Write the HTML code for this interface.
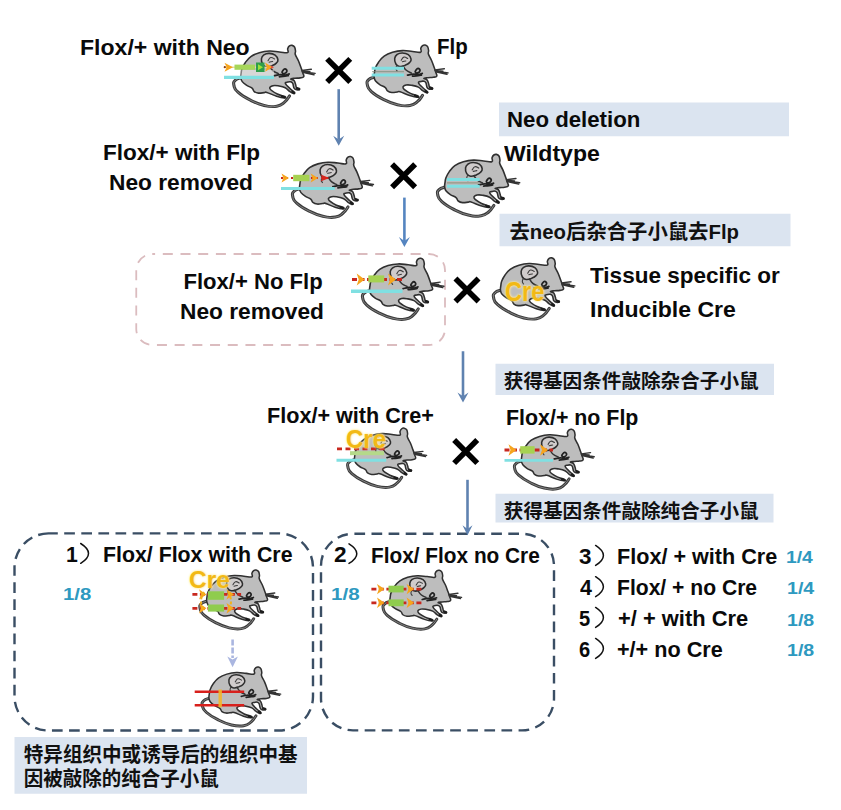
<!DOCTYPE html>
<html lang="zh"><head><meta charset="utf-8"><title>Conditional knockout mouse breeding scheme</title>
<style>
html,body{margin:0;padding:0;background:#fff}
#c{position:relative;width:841px;height:810px;overflow:hidden;background:#fff;font-family:"Liberation Sans",sans-serif}
#c svg{position:absolute;left:0;top:0}
.t{position:absolute;white-space:nowrap;font-weight:bold;line-height:normal;transform-origin:0 0;font-family:"Liberation Sans",sans-serif}
</style></head><body><div id="c">
<svg width="841" height="810" viewBox="0 0 841 810">
<defs><symbol id="m" overflow="visible">
<path d="M14.8 46.6C13.25 47.28 10.50 47.32 8.6 49.3C6.70 51.28 6.52 51.47 7.2 54.5C7.88 57.53 7.25 57.72 11.3 61.4C15.35 65.08 16.80 65.87 23.4 69.2C30.00 72.53 30.92 73.12 37.7 74.7C44.48 76.28 45.35 76.33 50.5 75.5C55.65 74.67 55.10 73.98 58.3 71.4C61.50 68.82 62.05 66.75 63.3 65.2" fill="none" stroke="#3b3b3b" stroke-width="3.1" stroke-linecap="round"/>
<path d="M14.8 46.6C13.25 47.28 10.50 47.32 8.6 49.3C6.70 51.28 6.52 51.47 7.2 54.5C7.88 57.53 7.25 57.72 11.3 61.4C15.35 65.08 16.80 65.87 23.4 69.2C30.00 72.53 30.92 73.12 37.7 74.7C44.48 76.28 45.35 76.33 50.5 75.5C55.65 74.67 55.10 73.98 58.3 71.4C61.50 68.82 62.05 66.75 63.3 65.2" fill="none" stroke="#9a9a9a" stroke-width="0.8" stroke-linecap="round"/>
<path d="M14.1 46.8C13.87 44.97 14.23 43.95 14.5 42C14.77 40.05 14.54 39.68 15.4 37.5C16.26 35.32 16.73 34.14 18.6 31.6C20.47 29.06 21.32 27.52 24.3 25.4C27.28 23.28 28.89 22.68 32.8 21.5C36.71 20.32 38.64 19.97 42.9 19.8C47.16 19.63 49.24 20.36 53.1 20.7C56.96 21.04 59.54 22.07 61.3 21.4C63.06 20.73 61.08 18.91 61.5 17.5C61.92 16.09 62.38 15.41 63.3 14.7C64.22 13.99 64.83 13.89 65.9 14.1C66.97 14.31 67.66 14.50 68.4 15.7C69.14 16.90 69.23 18.20 69.4 19.8C69.57 21.40 68.59 21.24 69.2 23.3C69.81 25.36 71.08 26.79 72.3 29.6C73.52 32.41 74.05 34.10 75 36.7C75.95 39.30 76.23 40.13 76.8 42C77.37 43.87 78.27 44.57 77.7 45.6C77.13 46.63 75.97 46.54 74.1 46.9C72.23 47.26 70.80 47.07 68.8 47.3C66.80 47.53 64.79 47.52 64.6 48C64.41 48.48 66.87 48.42 67.9 49.6C68.93 50.78 68.97 52.11 69.5 53.6C70.03 55.09 69.62 55.86 70.4 56.7C71.18 57.54 72.70 57.14 73.2 57.6C73.70 58.06 73.64 58.71 72.8 58.9C71.96 59.09 70.27 58.96 69.2 58.5C68.13 58.04 68.25 57.98 67.7 56.7C67.15 55.42 67.25 53.62 66.6 52.4C65.95 51.18 65.63 51.17 64.6 50.9C63.57 50.63 62.83 50.74 61.7 51.1C60.57 51.46 58.70 51.15 59.2 52.6C59.70 54.05 62.19 56.13 64.1 58C66.01 59.87 67.65 60.53 68.3 61.5C68.95 62.47 68.23 62.81 67.2 62.6C66.17 62.39 65.12 61.70 63.4 60.5C61.68 59.30 61.23 58.03 59 56.9C56.77 55.77 55.40 55.54 52.8 55.1C50.20 54.66 48.53 54.21 46.6 54.8C44.67 55.39 42.68 56.14 43.6 57.9C44.52 59.66 47.85 61.56 51 63.2C54.15 64.84 57.15 64.86 58.6 65.7C60.05 66.54 59.64 67.24 57.9 67.2C56.16 67.16 53.95 66.68 50.3 65.5C46.65 64.32 43.15 62.38 40.5 61.6C37.85 60.82 39.49 61.65 37.7 61.8C35.91 61.95 34.10 62.53 32 62.3C29.90 62.07 29.07 61.75 27.7 60.7C26.33 59.65 27.16 58.64 25.5 57.3C23.84 55.96 21.88 55.69 19.8 54.3C17.72 52.91 16.80 52.28 15.6 50.7C14.40 49.12 14.33 48.63 14.1 46.8Z" fill="#bdbdbd" stroke="#303030" stroke-width="1.6" stroke-linejoin="round"/>
<path d="M35 27.6C35.33 25.17 35.55 25.05 37.5 23.7C39.45 22.35 39.97 22.15 42.8 22.2C45.63 22.25 46.60 22.35 48.8 23.9C51.00 25.45 51.30 26.37 51.6 28.4C51.90 30.43 51.45 30.45 50 32C48.55 33.55 48.30 33.62 45.8 34.6C43.30 35.58 42.40 36.20 40 35.9C37.60 35.60 37.45 35.48 36.2 33.4C34.95 31.32 34.67 30.03 35 27.6Z" fill="#d0cccc" stroke="#2e2e2e" stroke-width="1.6"/>
<path d="M41.6 29.6C42.30 28.80 42.75 26.85 44.4 26.4C46.05 25.95 47.25 27.45 48.2 27.8M42.7 31.1C43.60 30.90 45.40 30.50 46.3 30.3M37.2 34.6C36.95 35.45 36.15 36.52 36.2 38C36.25 39.48 37.10 39.87 37.4 40.5" fill="none" stroke="#3c3c3c" stroke-width="1.1" stroke-linecap="round"/>
<path d="M43.5 35.4C44.33 36.50 44.67 38.00 46.8 39.8C48.93 41.60 50.70 41.90 52 42.6" fill="none" stroke="#333" stroke-width="1.5" stroke-linecap="round"/>
<path d="M48 44.7C49.55 44.42 51.52 43.73 54.2 43.6C56.88 43.47 56.50 44.38 58.7 44.2C60.90 44.02 61.92 43.23 63 42.9M56.5 39.8C57.20 38.85 57.65 37.72 58.7 37.8C59.75 37.88 60.83 38.92 60.7 40.1C60.57 41.28 59.40 42.12 58.2 42.5C57.00 42.88 56.33 42.28 55.9 41.6C55.47 40.92 55.80 40.75 56.5 39.8ZM53.1 45.8C54.50 45.65 56.45 45.50 58.7 45.2C60.95 44.90 61.25 44.75 62.1 44.6" fill="none" stroke="#222" stroke-width="1.8" stroke-linecap="round"/>
<path d="M75.9 39.4L85.4 38.2M76.2 40.4L89.2 42.4M76.5 41.3L88.1 43.8M76 40L84 40.6" fill="none" stroke="#333" stroke-width="1.4" stroke-linecap="round"/>
<path d="M70.9 57.3L73 58.4M66.2 60.9L68 62.2M55.6 65.4L58.3 66.6" fill="none" stroke="#1c1c1c" stroke-width="2.2" stroke-linecap="round"/>
</symbol></defs>
<rect x="499" y="102.5" width="290" height="33.75" fill="#dbe4f0"/>
<rect x="499.5" y="213.75" width="291" height="32.5" fill="#dbe4f0"/>
<rect x="495.5" y="363.75" width="278.5" height="31.25" fill="#dbe4f0"/>
<rect x="495.5" y="493.75" width="278" height="28.75" fill="#dbe4f0"/>
<rect x="14.5" y="737" width="292.5" height="56.75" fill="#dbe4f0"/>
<rect x="136.25" y="254" width="308.75" height="91" rx="16" fill="none" stroke="#dbbcbf" stroke-width="1.8" stroke-dasharray="10 7.7" stroke-dashoffset="7.15"/>
<rect x="14.5" y="533.4" width="298.5" height="197.1" rx="34" fill="none" stroke="#3a4e64" stroke-width="2.4" stroke-dasharray="10.7 6.4" stroke-dashoffset="1.4"/>
<rect x="321" y="533.8" width="233" height="196.6" rx="32" fill="none" stroke="#3a4e64" stroke-width="2.4" stroke-dasharray="10.7 6.4" stroke-dashoffset="15.7"/>
<path d="M338.7 89.2V139.8" stroke="#5f82b0" stroke-width="2.6" fill="none"/>
<path d="M338.7 145.8L333.2 135.8L338.7 139.6L344.2 135.8Z" fill="#5f82b0"/>
<path d="M404.4 197.6V241.1" stroke="#5585c0" stroke-width="2.6" fill="none"/>
<path d="M404.4 247.1L398.9 237.1L404.4 240.9L409.9 237.1Z" fill="#5585c0"/>
<path d="M463 351.25V396.5" stroke="#5f82b0" stroke-width="2.6" fill="none"/>
<path d="M463 402.5L457.5 392.5L463 396.3L468.5 392.5Z" fill="#5f82b0"/>
<path d="M467.5 479.8V529.3" stroke="#5f82b0" stroke-width="2.6" fill="none"/>
<path d="M467.5 535.3L462.5 525.3L467.5 529.1L472.5 525.3Z" fill="#5f82b0"/>
<path d="M232.6 639.5V658" stroke="#aab6e0" stroke-width="2.6" stroke-dasharray="6 2" fill="none"/>
<path d="M232.6 667.3L227.3 656.5L232.6 659.5L237.9 656.5Z" fill="#aab6e0"/>
<path d="M327.16 58.86L350.24 81.94M350.24 58.86L327.16 81.94" stroke="#000" stroke-width="5.6" fill="none"/>
<path d="M392.06 164.16L415.14 187.24M415.14 164.16L392.06 187.24" stroke="#000" stroke-width="5.6" fill="none"/>
<path d="M455.46 278.46L478.54 301.54M478.54 278.46L455.46 301.54" stroke="#000" stroke-width="5.6" fill="none"/>
<path d="M454.16 440.06L477.24 463.14M477.24 440.06L454.16 463.14" stroke="#000" stroke-width="5.6" fill="none"/>
<use href="#m" transform="translate(226.81 31.43) scale(0.99)"/>
<use href="#m" transform="translate(360.23 31.1) scale(0.985)"/>
<use href="#m" transform="translate(285.63 142.7) scale(0.985)"/>
<use href="#m" transform="translate(430.55 140.3) scale(1)"/>
<use href="#m" transform="translate(355.61 244.33) scale(0.99)"/>
<use href="#m" transform="translate(486.51 243.93) scale(0.99)"/>
<use href="#m" transform="translate(340.98 414.63) scale(0.96)"/>
<use href="#m" transform="translate(507.72 415.6) scale(0.97)"/>
<use href="#m" transform="translate(193.2 556.5) scale(0.955)"/>
<use href="#m" transform="translate(195.5 653.6) scale(0.955)"/>
<use href="#m" transform="translate(376.4 556.8) scale(0.955)"/>
<rect x="226" y="70" width="48" height="6" fill="#fff" opacity="0.4"/>
<path d="M224 77.4H274" stroke="#80e0e2" stroke-width="3.2"/>
<path d="M224 67.2H271" stroke="#e8d9a0" stroke-width="1.5"/>
<path d="M224.5 62.7L233 67.2L224.5 71.7L226.625 67.2Z" fill="#f6a51e"/>
<circle cx="224.8" cy="67.2" r="1.1" fill="#8a3b10"/>
<rect x="234.5" y="64.6" width="20.5" height="5.2" fill="#a6d65a"/>
<rect x="256" y="62.5" width="8.5" height="9.5" fill="#2e9d4a"/>
<path d="M258 64.2L263 67.2L258 70.2Z" fill="#9be33a"/>
<path d="M265 62.6L272.5 67.2L265 71.8L266.875 67.2Z" fill="#f6a51e"/>
<path d="M271 65.5l3 1.7l-3 1.7z" fill="#e0503a"/>
<path d="M371.7 68.3H404" stroke="#80e0e2" stroke-width="3"/>
<path d="M371.7 75H404" stroke="#80e0e2" stroke-width="3"/>
<path d="M372 71.7H404" stroke="#7a8a78" stroke-width="0.8"/>
<path d="M447 179.5H479.7" stroke="#80e0e2" stroke-width="3"/>
<path d="M447 186.3H479.7" stroke="#80e0e2" stroke-width="3"/>
<path d="M447 182.9H479" stroke="#8a8a70" stroke-width="0.9"/>
<path d="M281 188.5H334.7" stroke="#80e0e2" stroke-width="3.2"/>
<path d="M281 178H331" stroke="#c8281e" stroke-width="2" stroke-dasharray="2 3"/>
<path d="M281.5 173.6L289 178L281.5 182.4L283.375 178Z" fill="#f6a51e"/>
<rect x="293.2" y="174.8" width="16.2" height="6.4" fill="#a6d252"/>
<path d="M310.6 173.6L318.1 178L310.6 182.4L312.475 178Z" fill="#f6a51e"/>
<path d="M320.5 174.6L329.5 178L320.5 181.4L322.75 178Z" fill="#d8261c"/>
<path d="M351 291.25H402.5" stroke="#80e0e2" stroke-width="3.4"/>
<path d="M352 279.6H402.5" stroke="#c8281e" stroke-width="3" stroke-dasharray="5 2.5"/>
<path d="M356.7 273.6L364.7 279.6L356.7 285.6L358.7 279.6Z" fill="#f6a51e"/>
<rect x="368.3" y="275.4" width="15.9" height="7" fill="#a6d252"/>
<path d="M388 273.6L396 279.6L388 285.6L390 279.6Z" fill="#f6a51e"/>
<path d="M336.5 460.2H386.2" stroke="#80e0e2" stroke-width="3"/>
<path d="M337 448.9H388" stroke="#c8281e" stroke-width="2.6" stroke-dasharray="5 3.5"/>
<rect x="350" y="451.2" width="34" height="4" fill="#b5d98a"/>
<path d="M504.5 460.4H553" stroke="#80e0e2" stroke-width="2.8"/>
<path d="M504.5 450H553" stroke="#c8281e" stroke-width="3" stroke-dasharray="5 2.5"/>
<path d="M508.5 444.2L516.5 450L508.5 455.8L510.5 450Z" fill="#f6a51e"/>
<rect x="520.2" y="446.2" width="14.4" height="7.4" fill="#a6d252"/>
<path d="M540 444.2L548 450L540 455.8L542 450Z" fill="#f6a51e"/>
<path d="M192.4 594.4H241.1" stroke="#c8281e" stroke-width="2.8" stroke-dasharray="5 2.5"/>
<path d="M192.4 608.3H241.1" stroke="#c8281e" stroke-width="2.8" stroke-dasharray="5 2.5"/>
<rect x="207.9" y="591.3" width="16.2" height="8.5" fill="#8fcc4e"/>
<rect x="207.9" y="604.5" width="16.2" height="7.1" fill="#8fcc4e"/>
<path d="M199 589.2L206.5 594.4L199 599.6L200.875 594.4Z" fill="#f6a51e"/>
<path d="M226.5 589.2L234 594.4L226.5 599.6L228.375 594.4Z" fill="#f6a51e"/>
<path d="M199 603.1L206.5 608.3L199 613.5L200.875 608.3Z" fill="#f6a51e"/>
<path d="M226.5 603.1L234 608.3L226.5 613.5L228.375 608.3Z" fill="#f6a51e"/>
<path d="M204 592Q198 601.5 204 611" stroke="#f2b21c" stroke-width="2" fill="none" stroke-dasharray="3 2"/>
<path d="M228 592Q234 601.5 228 611" stroke="#f2b21c" stroke-width="2" fill="none" stroke-dasharray="3 2"/>
<path d="M194.7 691.8H244.2M194.7 705.3H244.2" stroke="#d8201c" stroke-width="2.5"/>
<rect x="218.5" y="689.5" width="3.4" height="17.8" fill="#f2b62a" opacity="0.9"/>
<path d="M371.4 589.1H422.7" stroke="#c8281e" stroke-width="2.8" stroke-dasharray="5 2.5"/>
<path d="M371.4 602.8H422.7" stroke="#c8281e" stroke-width="2.8" stroke-dasharray="5 2.5"/>
<rect x="388.5" y="585.7" width="15.2" height="6.7" fill="#8fcc4e"/>
<rect x="388.5" y="599.4" width="15.2" height="6.8" fill="#8fcc4e"/>
<path d="M377 583.9L384.5 589.1L377 594.3L378.875 589.1Z" fill="#f6a51e"/>
<path d="M406.6 583.9L414.1 589.1L406.6 594.3L408.475 589.1Z" fill="#f6a51e"/>
<path d="M377 597.6L384.5 602.8L377 608L378.875 602.8Z" fill="#f6a51e"/>
<path d="M406.6 597.6L414.1 602.8L406.6 608L408.475 602.8Z" fill="#f6a51e"/>
<text x="509.5" y="239.4" font-size="20.3" font-weight="bold" fill="#111" font-family="&quot;Liberation Sans&quot;, &quot;Noto Sans CJK SC&quot;, sans-serif" textLength="229.5" lengthAdjust="spacingAndGlyphs">去neo后杂合子小鼠去Flp</text>
<text x="503.8" y="387.7" font-size="19.7" font-weight="bold" fill="#111" font-family="&quot;Liberation Sans&quot;, &quot;Noto Sans CJK SC&quot;, sans-serif" textLength="254.8" lengthAdjust="spacingAndGlyphs">获得基因条件敲除杂合子小鼠</text>
<text x="503.8" y="517.7" font-size="19.7" font-weight="bold" fill="#111" font-family="&quot;Liberation Sans&quot;, &quot;Noto Sans CJK SC&quot;, sans-serif" textLength="254.8" lengthAdjust="spacingAndGlyphs">获得基因条件敲除纯合子小鼠</text>
<text x="23.8" y="761.9" font-size="20" font-weight="bold" fill="#111" font-family="&quot;Liberation Sans&quot;, &quot;Noto Sans CJK SC&quot;, sans-serif" textLength="273.8" lengthAdjust="spacingAndGlyphs">特异组织中或诱导后的组织中基</text>
<text x="23.8" y="785.6" font-size="20" font-weight="bold" fill="#111" font-family="&quot;Liberation Sans&quot;, &quot;Noto Sans CJK SC&quot;, sans-serif" textLength="195" lengthAdjust="spacingAndGlyphs">因被敲除的纯合子小鼠</text>
<path d="M80.7 543.5Q96.3 553.4 80.7 563.3" fill="none" stroke="#111" stroke-width="1.5" stroke-linecap="round"/>
<path d="M349 543.9Q364.6 553.65 349 563.4" fill="none" stroke="#111" stroke-width="1.5" stroke-linecap="round"/>
<path d="M595.6 545.45Q611.2 555.45 595.6 565.45" fill="none" stroke="#111" stroke-width="1.5" stroke-linecap="round"/>
<path d="M595.6 576.7Q611.2 586.7 595.6 596.7" fill="none" stroke="#111" stroke-width="1.5" stroke-linecap="round"/>
<path d="M595.6 607.45Q611.2 617.45 595.6 627.45" fill="none" stroke="#111" stroke-width="1.5" stroke-linecap="round"/>
<path d="M595.6 638.45Q611.2 648.45 595.6 658.45" fill="none" stroke="#111" stroke-width="1.5" stroke-linecap="round"/>
</svg>
<span class="t" id="t0" style="left:80.46px;top:35.00px;font-size:22.50px;color:#0a0a0a;transform:scaleX(1.0243);">Flox/+ with Neo</span>
<span class="t" id="t1" style="left:437.39px;top:34.00px;font-size:22.24px;color:#0a0a0a;transform:scaleX(0.9215);">Flp</span>
<span class="t" id="t2" style="left:103.24px;top:140.00px;font-size:22.38px;color:#0a0a0a;transform:scaleX(1.0065);">Flox/+ with Flp</span>
<span class="t" id="t3" style="left:109.21px;top:170.00px;font-size:22.09px;color:#0a0a0a;transform:scaleX(1.0292);">Neo removed</span>
<span class="t" id="t4" style="left:506.94px;top:107.00px;font-size:21.80px;color:#0a0a0a;transform:scaleX(1.0195);">Neo deletion</span>
<span class="t" id="t5" style="left:504.24px;top:141.00px;font-size:22.09px;color:#0a0a0a;transform:scaleX(1.0440);">Wildtype</span>
<span class="t" id="t6" style="left:590.00px;top:263.00px;font-size:22.50px;color:#0a0a0a;transform:scaleX(1.0011);">Tissue specific or</span>
<span class="t" id="t7" style="left:590.00px;top:297.00px;font-size:22.50px;color:#0a0a0a;transform:scaleX(1.0231);">Inducible Cre</span>
<span class="t" id="t8" style="left:183.41px;top:269.00px;font-size:22.09px;color:#0a0a0a;transform:scaleX(1.0000);">Flox/+ No Flp</span>
<span class="t" id="t9" style="left:180.45px;top:299.00px;font-size:22.09px;color:#0a0a0a;transform:scaleX(1.0292);">Neo removed</span>
<span class="t" id="t10" style="left:267.40px;top:403.00px;font-size:22.09px;color:#0a0a0a;transform:scaleX(0.9787);">Flox/+ with Cre+</span>
<span class="t" id="t11" style="left:506.35px;top:405.00px;font-size:21.80px;color:#0a0a0a;transform:scaleX(0.9807);">Flox/+ no Flp</span>
<span class="t" id="t12" style="left:65.54px;top:542.00px;font-size:21.80px;color:#0a0a0a;transform:scaleX(0.9722);">1</span>
<span class="t" id="t13" style="left:102.78px;top:542.00px;font-size:21.80px;color:#0a0a0a;transform:scaleX(0.9779);">Flox/ Flox with Cre</span>
<span class="t" id="t14" style="left:333.50px;top:542.00px;font-size:21.80px;color:#0a0a0a;transform:scaleX(1.0370);">2</span>
<span class="t" id="t15" style="left:371.26px;top:543.00px;font-size:21.80px;color:#0a0a0a;transform:scaleX(0.9545);">Flox/ Flox no Cre</span>
<span class="t" id="t16" style="left:578.99px;top:544.00px;font-size:21.80px;color:#0a0a0a;transform:scaleX(1.0296);">3</span>
<span class="t" id="t17" style="left:616.50px;top:544.00px;font-size:21.80px;color:#0a0a0a;transform:scaleX(0.9907);">Flox/ + with Cre</span>
<span class="t" id="t18" style="left:580.00px;top:575.00px;font-size:21.80px;color:#0a0a0a;transform:scaleX(0.9833);">4</span>
<span class="t" id="t19" style="left:616.50px;top:575.00px;font-size:21.80px;color:#0a0a0a;transform:scaleX(0.9679);">Flox/ + no Cre</span>
<span class="t" id="t20" style="left:579.09px;top:606.00px;font-size:21.80px;color:#0a0a0a;transform:scaleX(0.9227);">5</span>
<span class="t" id="t21" style="left:618.20px;top:606.00px;font-size:21.80px;color:#0a0a0a;transform:scaleX(1.0041);">+/ + with Cre</span>
<span class="t" id="t22" style="left:579.09px;top:637.00px;font-size:21.80px;color:#0a0a0a;transform:scaleX(0.9228);">6</span>
<span class="t" id="t23" style="left:617.26px;top:637.00px;font-size:21.80px;color:#0a0a0a;transform:scaleX(0.9912);">+/+  no Cre</span>
<span class="t" id="t24" style="left:62.71px;top:585.00px;font-size:16.90px;color:#2e99c0;transform:scaleX(1.2028);">1/8</span>
<span class="t" id="t25" style="left:331.32px;top:585.00px;font-size:16.90px;color:#2e99c0;transform:scaleX(1.2169);">1/8</span>
<span class="t" id="t26" style="left:786.30px;top:548.00px;font-size:16.90px;color:#2e99c0;transform:scaleX(1.1440);">1/4</span>
<span class="t" id="t27" style="left:786.62px;top:579.00px;font-size:16.90px;color:#2e99c0;transform:scaleX(1.1607);">1/4</span>
<span class="t" id="t28" style="left:786.63px;top:611.00px;font-size:16.90px;color:#2e99c0;transform:scaleX(1.1591);">1/8</span>
<span class="t" id="t29" style="left:786.63px;top:641.00px;font-size:16.90px;color:#2e99c0;transform:scaleX(1.1591);">1/8</span>
<span class="t" id="t30" style="left:505.23px;top:276.00px;font-size:27.33px;color:#f2b915;transform:scaleX(0.8647);text-shadow:0 0 3px #fff3b0,0 0 2px #ffe27a;">Cre</span>
<span class="t" id="t31" style="left:346.09px;top:425.00px;font-size:25.87px;color:#f2b915;transform:scaleX(0.9272);text-shadow:0 0 3px #fff3b0,0 0 2px #ffe27a;">Cre</span>
<span class="t" id="t32" style="left:188.74px;top:566.00px;font-size:24.71px;color:#f2b915;transform:scaleX(0.9915);text-shadow:0 0 3px #fff3b0,0 0 2px #ffe27a;">Cre</span>
</div></body></html>
